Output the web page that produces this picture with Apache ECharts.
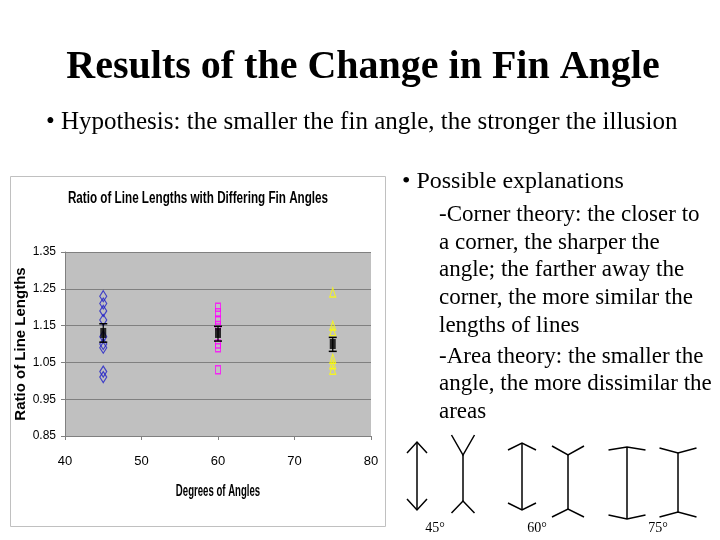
<!DOCTYPE html>
<html><head><meta charset="utf-8">
<script src="https://cdn.jsdelivr.net/npm/echarts@6/dist/echarts.min.js"></script>
<style>html,body{margin:0;padding:0;background:#fff}#c{width:720px;height:540px}</style>
</head><body><div id="c"></div>
<script>
// ---- data ----
var xTicks = [40, 50, 60, 70, 80];
var yTicks = [0.85, 0.95, 1.05, 1.15, 1.25, 1.35];
var angles = [45, 60, 75];
var ratios45 = [1.23, 1.21, 1.19, 1.165, 1.12, 1.10, 1.09, 1.025, 1.01];
var ratios60 = [1.20, 1.185, 1.165, 1.15, 1.10, 1.09, 1.03];
var ratios75 = [1.24, 1.15, 1.135, 1.06, 1.045, 1.03];
var means = [1.13, 1.13, 1.10];
var errLow = [1.105, 1.108, 1.08];
var errHigh = [1.155, 1.148, 1.118];
var figureLabels = ['45°', '60°', '75°'];
var rightLines = ['-Corner theory: the closer to', 'a corner, the sharper the', 'angle; the farther away the',
  'corner, the more similar the', 'lengths of lines', '-Area theory: the smaller the',
  'angle, the more dissimilar the', 'areas'];

function pts(x, arr) { return arr.map(function (v) { return [x, v]; }); }

var serif = 'Liberation Serif, Times New Roman, serif';
var sans = 'Liberation Sans, Arial, sans-serif';

var graphics = [];
graphics.push({ type: 'rect', z: -10, shape: { x: 10.5, y: 176.5, width: 375, height: 350 },
  style: { fill: '#fff', stroke: '#c0c0c0', lineWidth: 1 } });
graphics.push({ type: 'text', x: 363, y: 68, style: { text: 'Results of the Change in Fin Angle',
  font: 'bold 40px ' + serif, fill: '#000', textAlign: 'center', textVerticalAlign: 'middle' } });
graphics.push({ type: 'text', x: 46, y: 122, style: { text: '\u2022 Hypothesis: the smaller the fin angle, the stronger the illusion',
  font: '25px ' + serif, fill: '#000', textAlign: 'left', textVerticalAlign: 'middle' } });
graphics.push({ type: 'text', x: 402, y: 182, style: { text: '\u2022 Possible explanations',
  font: '24px ' + serif, fill: '#000', textAlign: 'left', textVerticalAlign: 'middle' } });
var lineYs = [215, 243, 270, 298, 326, 357, 384, 412];
rightLines.forEach(function (t, i) {
  graphics.push({ type: 'text', x: 439, y: lineYs[i], style: { text: t,
    font: '23px ' + serif, fill: '#000', textAlign: 'left', textVerticalAlign: 'middle' } });
});
// condensed chart title and x-axis title
graphics.push({ type: 'text', x: 198, y: 199, scaleX: 0.73, style: { text: 'Ratio of Line Lengths with Differing Fin Angles',
  font: 'bold 16px ' + sans, fill: '#000', textAlign: 'center', textVerticalAlign: 'middle' } });
graphics.push({ type: 'text', x: 218, y: 492, scaleX: 0.6, style: { text: 'Degrees of Angles',
  font: 'bold 16px ' + sans, fill: '#000', textAlign: 'center', textVerticalAlign: 'middle' } });
// Muller-Lyer illustrations
function fig(cx, y1, y2, dx, fy1, fy2) {
  graphics.push({ type: 'polyline', shape: { points: [[cx, y1], [cx, y2]] }, style: { stroke: '#000', lineWidth: 1.5 } });
  graphics.push({ type: 'polyline', shape: { points: [[cx - dx, fy1], [cx, y1], [cx + dx, fy1]] }, style: { stroke: '#000', lineWidth: 1.5, fill: null } });
  graphics.push({ type: 'polyline', shape: { points: [[cx - dx, fy2], [cx, y2], [cx + dx, fy2]] }, style: { stroke: '#000', lineWidth: 1.5, fill: null } });
}
fig(417, 442, 510, 10, 453, 499);
fig(463, 455, 501, 11.5, 435, 513);
fig(522, 443, 510, 14, 450, 503);
fig(568, 455, 509, 16, 446, 517);
fig(627, 447, 519, 18.5, 450, 515);
fig(678, 453, 512, 18.5, 448, 517);
[435, 537, 658].forEach(function (x, i) {
  graphics.push({ type: 'text', x: x, y: 528, style: { text: figureLabels[i], font: '14px ' + serif,
    fill: '#000', textAlign: 'center', textVerticalAlign: 'middle' } });
});

var chart = echarts.init(document.getElementById('c'), null, { renderer: 'canvas' });
chart.setOption({
  animation: false,
  backgroundColor: '#fff',
  grid: { left: 65, right: 349, top: 252, bottom: 104, show: true, backgroundColor: '#c0c0c0', borderWidth: 0 },
  xAxis: { type: 'value', min: xTicks[0], max: xTicks[xTicks.length - 1], interval: 10,
    axisLine: { lineStyle: { color: '#808080' } },
    axisTick: { show: true, inside: false, length: 4, lineStyle: { color: '#808080' } },
    axisLabel: { fontFamily: sans, fontSize: 13, color: '#000', margin: 19 },
    splitLine: { show: false } },
  yAxis: { type: 'value', min: yTicks[0], max: yTicks[yTicks.length - 1], interval: 0.1,
    name: 'Ratio of Line Lengths', nameLocation: 'middle', nameGap: 29,
    nameTextStyle: { fontFamily: sans, fontWeight: 'bold', fontSize: 15, color: '#000' },
    axisLine: { show: true, lineStyle: { color: '#808080' } },
    axisTick: { show: true, inside: false, length: 4, lineStyle: { color: '#808080' } },
    axisLabel: { fontFamily: sans, fontSize: 12, color: '#000', margin: 9,
      formatter: function (v) { return v.toFixed(2); } },
    splitLine: { show: true, lineStyle: { color: '#808080', width: 1 } } },
  series: [
    { type: 'scatter', data: pts(angles[0], ratios45), symbol: 'diamond', symbolSize: [7, 11],
      itemStyle: { color: 'rgba(0,0,0,0)', borderColor: '#2020c8', borderWidth: 1.2 } },
    { type: 'scatter', data: pts(angles[1], ratios60), symbol: 'rect', symbolSize: [5, 8],
      itemStyle: { color: 'rgba(0,0,0,0)', borderColor: '#ff00ff', borderWidth: 1.2 } },
    { type: 'scatter', data: pts(angles[2], ratios75), symbol: 'triangle', symbolSize: [6, 9],
      itemStyle: { color: 'rgba(0,0,0,0)', borderColor: '#ffff00', borderWidth: 1.2 } },
    { type: 'custom', data: angles.map(function (a, i) { return [a, errLow[i], errHigh[i]]; }),
      renderItem: function (params, api) {
        var lo = api.coord([api.value(0), api.value(1)]);
        var hi = api.coord([api.value(0), api.value(2)]);
        var w = 4;
        return { type: 'group', children: [
          { type: 'line', shape: { x1: lo[0], y1: lo[1], x2: hi[0], y2: hi[1] }, style: { stroke: '#000', lineWidth: 1.2 } },
          { type: 'line', shape: { x1: lo[0] - w, y1: lo[1], x2: lo[0] + w, y2: lo[1] }, style: { stroke: '#000', lineWidth: 1.5 } },
          { type: 'line', shape: { x1: hi[0] - w, y1: hi[1], x2: hi[0] + w, y2: hi[1] }, style: { stroke: '#000', lineWidth: 1.5 } }
        ] };
      }, z: 3 },
    { type: 'scatter', data: angles.map(function (a, i) { return [a, means[i]]; }), symbol: 'rect', symbolSize: [6, 10],
      itemStyle: { color: '#000' }, z: 4 }
  ],
  graphic: { elements: graphics }
});
</script></body></html>
